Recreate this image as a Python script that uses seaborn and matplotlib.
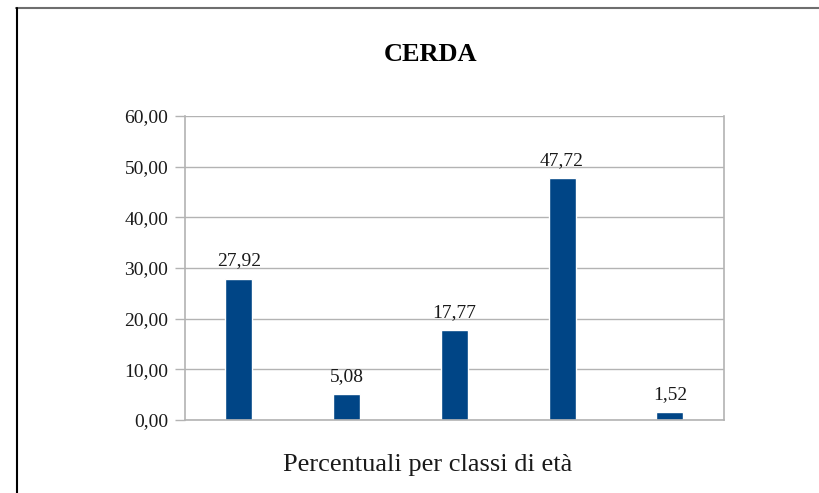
import pandas as pd
import matplotlib.pyplot as plt
import seaborn as sns

# data
classi = ["A", "B", "C", "D", "E"]
percentuali = [27.92, 5.08, 17.77, 47.72, 1.52]
y_ticks = [0, 10, 20, 30, 40, 50, 60]

sns.set_theme(style="whitegrid")
plt.rcParams['font.family'] = ['Liberation Serif', 'DejaVu Serif']

df = pd.DataFrame({"classe": classi, "pct": percentuali})

fig = plt.figure(figsize=(8.2, 4.93), dpi=100)
ax = fig.add_axes([0.2256, 0.148, 0.657, 0.6166])

sns.barplot(data=df, x="classe", y="pct", color="#004586", width=0.25,
            saturation=1, ax=ax)

# value labels, Italian decimal comma
for i, v in enumerate(percentuali):
    ax.text(i, v + 1.8, f"{v:.2f}".replace(".", ","), ha="center", va="bottom",
            fontsize=14, color="#1a1a1a")

ax.set_ylim(0, 60)
ax.set_yticks(y_ticks)
ax.set_yticklabels([f"{t:.2f}".replace(".", ",") for t in y_ticks], fontsize=14,
                   color="#1a1a1a")
ax.set_xticks([])
ax.set_xlabel("")
ax.set_ylabel("")
ax.grid(axis="y", color="#b3b3b3", linewidth=1)
ax.grid(axis="x", visible=False)
for s in ["left", "right", "bottom"]:
    ax.spines[s].set_color("#b3b3b3")
    ax.spines[s].set_linewidth(1.2)
ax.spines["top"].set_visible(False)
ax.tick_params(axis="y", length=7, color="#b3b3b3", width=1, left=True, pad=5)

fig.text(0.525, 0.89, "CERDA", ha="center", va="center", fontsize=19,
         fontweight="bold", color="black")
fig.text(0.521, 0.057, "Percentuali per classi di età", ha="center",
         va="center", fontsize=19, color="#1a1a1a")

# outer frame lines (top and left)
fig.add_artist(plt.Line2D([0.02, 1.0], [0.983, 0.983], color="#6e6e6e",
                          linewidth=1.5, transform=fig.transFigure))
fig.add_artist(plt.Line2D([0.0207, 0.0207], [0.0, 0.983], color="black",
                          linewidth=1.5, transform=fig.transFigure))

fig.savefig("out.png", dpi=100)
